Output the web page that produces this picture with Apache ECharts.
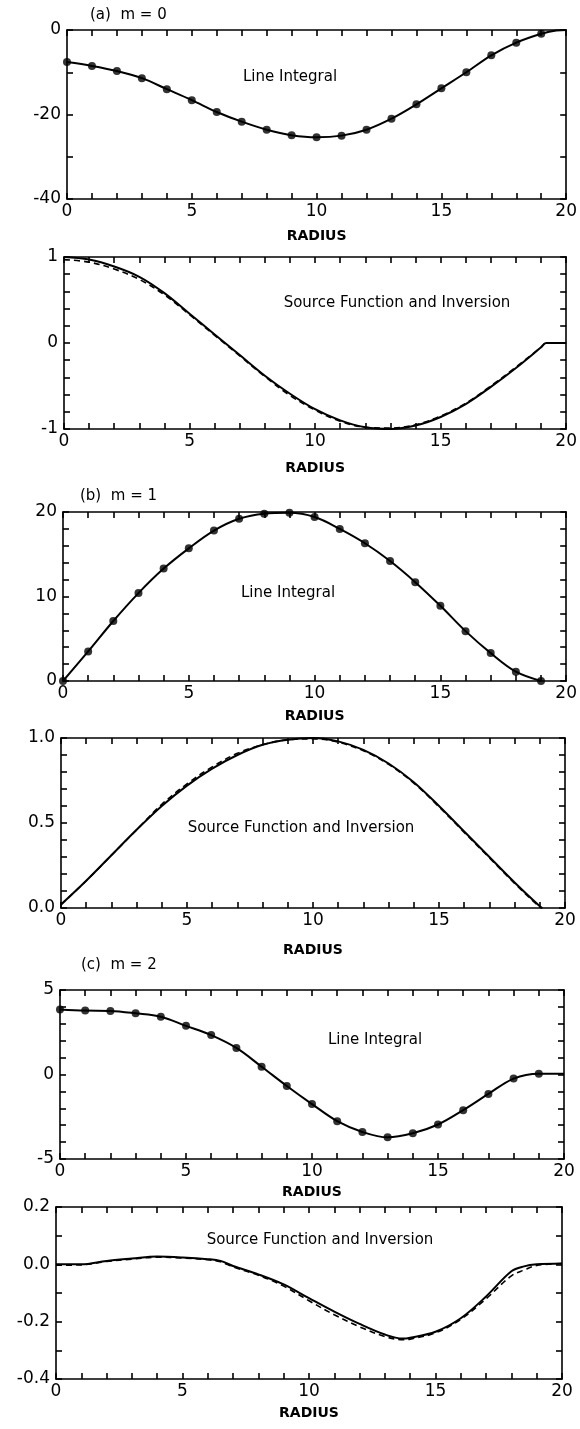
<!DOCTYPE html>
<html>
<head>
<meta charset="utf-8">
<script src="https://cdn.jsdelivr.net/npm/echarts@6/dist/echarts.min.js"></script>
<style>
html, body { margin: 0; padding: 0; background: #fff; }
#chart { width: 580px; height: 1429px; }
</style>
</head>
<body>
<div id="chart"></div>
<script>
// (a) m = 0
var aLineX = [0, 1, 2, 3, 4, 5, 6, 7, 8, 9, 10, 11, 12, 13, 14, 15, 16, 17, 18, 19, 19.6, 20];
var aLineY = [-7.6, -8.5, -9.7, -11.4, -14.0, -16.6, -19.4, -21.7, -23.6, -24.9, -25.4, -25.0, -23.6, -21.0, -17.6, -13.8, -10.0, -6.0, -3.0, -0.9, -0.1, 0];
var aSrcX = [0, 1, 2, 3, 4, 5, 6, 7, 8, 9, 10, 11, 12, 13, 14, 15, 16, 17, 18, 19, 19.2, 20];
var aSrcY = [1.0, 0.97, 0.89, 0.77, 0.58, 0.34, 0.10, -0.14, -0.38, -0.59, -0.77, -0.90, -0.98, -1.0, -0.96, -0.86, -0.71, -0.51, -0.29, -0.05, 0, 0];
var aInvY = [0.97, 0.94, 0.86, 0.74, 0.56, 0.33, 0.09, -0.15, -0.39, -0.61, -0.78, -0.91, -0.98, -0.99, -0.95, -0.85, -0.70, -0.50, -0.28, -0.05, 0, 0];

// (b) m = 1
var bLineX = [0, 1, 2, 3, 4, 5, 6, 7, 8, 9, 10, 11, 12, 13, 14, 15, 16, 17, 18, 19];
var bLineY = [0, 3.5, 7.1, 10.4, 13.3, 15.7, 17.8, 19.2, 19.8, 19.9, 19.4, 18.0, 16.3, 14.2, 11.7, 8.9, 5.9, 3.3, 1.1, 0];
var bSrcX = [0, 1, 2, 3, 4, 5, 6, 7, 8, 9, 10, 11, 12, 13, 14, 15, 16, 17, 18, 19, 19.1];
var bSrcY = [0.02, 0.16, 0.31, 0.46, 0.60, 0.72, 0.82, 0.90, 0.96, 0.99, 1.0, 0.98, 0.93, 0.85, 0.74, 0.60, 0.45, 0.30, 0.15, 0.01, 0];
var bInvY = [0.02, 0.16, 0.31, 0.46, 0.61, 0.73, 0.83, 0.91, 0.96, 0.99, 0.995, 0.975, 0.925, 0.845, 0.735, 0.595, 0.445, 0.295, 0.145, 0.005, 0];

// (c) m = 2
var cLineX = [0, 1, 2, 3, 4, 5, 6, 7, 8, 9, 10, 11, 12, 13, 14, 15, 16, 17, 18, 19, 20];
var cLineY = [3.85, 3.78, 3.76, 3.62, 3.42, 2.88, 2.33, 1.57, 0.46, -0.68, -1.75, -2.76, -3.40, -3.72, -3.48, -2.96, -2.11, -1.15, -0.24, 0.05, 0.05];
var cSrcX = [0, 1, 2, 3, 4, 5, 6, 6.5, 7, 8, 9, 10, 11, 12, 13, 13.7, 14, 15, 16, 17, 18, 18.5, 19, 20];
var cSrcY = [0.0, 0.0, 0.012, 0.02, 0.027, 0.024, 0.018, 0.012, -0.006, -0.035, -0.07, -0.118, -0.165, -0.208, -0.245, -0.259, -0.256, -0.235, -0.188, -0.112, -0.024, -0.007, 0.0, 0.003];
var cInvY = [-0.003, -0.002, 0.01, 0.018, 0.025, 0.022, 0.016, 0.009, -0.009, -0.038, -0.076, -0.127, -0.176, -0.218, -0.252, -0.263, -0.261, -0.239, -0.192, -0.12, -0.04, -0.02, -0.004, 0.003];

var FONT = "DejaVu Sans";

function zip(xs, ys) {
  return xs.map(function (x, i) { return [x, ys[i]]; });
}

// tick positions every `step` between lo and hi
function steps(lo, hi, step) {
  var out = [];
  var n = Math.round((hi - lo) / step);
  for (var k = 0; k <= n; k++) out.push(Math.round((lo + k * step) * 1000) / 1000);
  return out;
}

var chart = echarts.init(document.getElementById("chart"));

var panels = [
  { grid: { left: 67, top: 30, width: 507, height: 169 }, yMin: -40, yMax: 0, yInt: 20, yStep: 10, fmt: 0, gap: 30,
    title: "(a)  m = 0", titlePos: [90, 8], label: "Line Integral", labelPos: [290, 77] },
  { grid: { left: 64, top: 257, width: 506, height: 172 }, yMin: -1, yMax: 1, yInt: 1, yStep: 0.2, fmt: 0, gap: 32,
    label: "Source Function and Inversion", labelPos: [397, 303] },
  { grid: { left: 63, top: 512, width: 506, height: 169 }, yMin: 0, yMax: 20, yInt: 10, yStep: 2, fmt: 0, gap: 28,
    title: "(b)  m = 1", titlePos: [80, 489], label: "Line Integral", labelPos: [288, 593] },
  { grid: { left: 61, top: 738, width: 504, height: 170 }, yMin: 0, yMax: 1, yInt: 0.5, yStep: 0.1, fmt: 1, gap: 35,
    label: "Source Function and Inversion", labelPos: [301, 828] },
  { grid: { left: 60, top: 990, width: 504, height: 169 }, yMin: -5, yMax: 5, yInt: 5, yStep: 1, fmt: 0, gap: 26,
    title: "(c)  m = 2", titlePos: [81, 958], label: "Line Integral", labelPos: [375, 1040] },
  { grid: { left: 56, top: 1207, width: 506, height: 172 }, yMin: -0.4, yMax: 0.2, yInt: 0.2, yStep: 0.1, fmt: 1, gap: 27,
    label: "Source Function and Inversion", labelPos: [320, 1240] }
];

var grids = [], xAxes = [], yAxes = [], graphics = [];
var lineStyle = { color: "#000", width: 1.6 };

panels.forEach(function (p, i) {
  grids.push(p.grid);
  var fmt = p.fmt;
  // bottom and top x axes
  [false, true].forEach(function (top) {
    xAxes.push({
      type: "value", gridIndex: i, min: 0, max: 20, interval: 5,
      position: top ? "top" : "bottom",
      name: top ? "" : "RADIUS", nameLocation: "middle", nameGap: p.gap,
      nameTextStyle: { color: "#000", fontFamily: FONT, fontSize: 14, fontWeight: "bold" },
      axisLine: { show: true, onZero: false, lineStyle: lineStyle },
      axisTick: { show: true, inside: true, length: 6, lineStyle: lineStyle, customValues: steps(0, 20, 1) },
      axisLabel: { show: !top, color: "#000", fontFamily: FONT, fontSize: 17, margin: 4,
        showMinLabel: true, showMaxLabel: true },
      splitLine: { show: false }
    });
  });
  // left and right y axes
  [false, true].forEach(function (right) {
    yAxes.push({
      type: "value", gridIndex: i, min: p.yMin, max: p.yMax, interval: p.yInt,
      position: right ? "right" : "left",
      axisLine: { show: true, onZero: false, lineStyle: lineStyle },
      axisTick: { show: true, inside: true, length: 6, lineStyle: lineStyle, customValues: steps(p.yMin, p.yMax, p.yStep) },
      axisLabel: { show: !right, color: "#000", fontFamily: FONT, fontSize: 17, margin: 6,
        showMinLabel: true, showMaxLabel: true,
        formatter: function (v) { return fmt ? v.toFixed(fmt) : String(Math.round(v)); } },
      splitLine: { show: false }
    });
  });
  if (p.title) {
    graphics.push({ type: "text", left: p.titlePos[0], top: p.titlePos[1],
      style: { text: p.title, fill: "#000", font: "15px '" + FONT + "'" } });
  }
  graphics.push({ type: "text", x: p.labelPos[0], y: p.labelPos[1],
    style: { text: p.label, fill: "#000", font: "15px '" + FONT + "'", align: "center", verticalAlign: "middle" } });
});

function solid(i, data) {
  return { type: "line", xAxisIndex: i * 2, yAxisIndex: i * 2, data: data, smooth: 0.35,
    showSymbol: false, lineStyle: { color: "#000", width: 2 }, silent: true, z: 3 };
}
function dashed(i, data) {
  return { type: "line", xAxisIndex: i * 2, yAxisIndex: i * 2, data: data, smooth: 0.35,
    showSymbol: false, lineStyle: { color: "#000", width: 1.6, type: [6, 4] }, silent: true, z: 2 };
}
function dots(i, data) {
  return { type: "scatter", xAxisIndex: i * 2, yAxisIndex: i * 2, data: data, symbolSize: 8,
    itemStyle: { color: "#000" }, silent: true, z: 4 };
}

var series = [
  solid(0, zip(aLineX, aLineY)),
  dots(0, zip(aLineX, aLineY).slice(0, 20)),
  solid(1, zip(aSrcX, aSrcY)),
  dashed(1, zip(aSrcX, aInvY)),
  solid(2, zip(bLineX, bLineY)),
  dots(2, zip(bLineX, bLineY)),
  solid(3, zip(bSrcX, bSrcY)),
  dashed(3, zip(bSrcX, bInvY)),
  solid(4, zip(cLineX, cLineY)),
  dots(4, zip(cLineX, cLineY).slice(0, 20)),
  solid(5, zip(cSrcX, cSrcY)),
  dashed(5, zip(cSrcX, cInvY))
];

chart.setOption({
  backgroundColor: "#fff",
  animation: false,
  grid: grids,
  xAxis: xAxes,
  yAxis: yAxes,
  series: series,
  graphic: graphics
});
</script>
</body>
</html>
